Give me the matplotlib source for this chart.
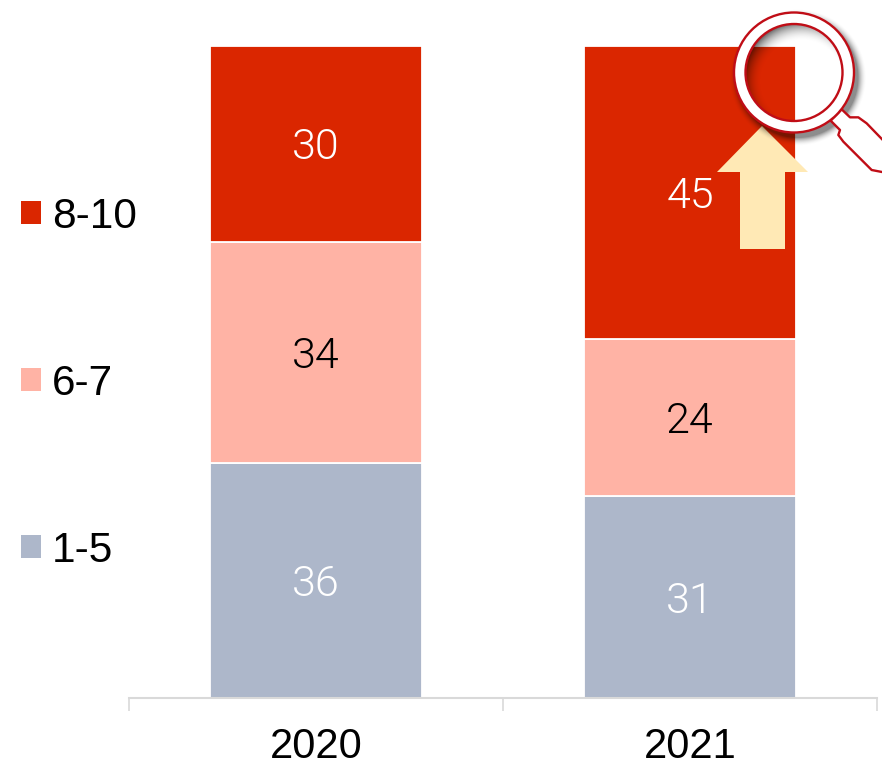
import matplotlib
matplotlib.use("Agg")
import matplotlib.pyplot as plt
import numpy as np
from matplotlib.patches import Circle, Patch, Polygon

YEARS = ["2020", "2021"]
LOW_SCORE = [36, 31]
MID_SCORE = [34, 24]
HIGH_SCORE = [30, 45]
SERIES_LABELS = ["1-5", "6-7", "8-10"]

COLORS = ["#ADB7CA", "#FFB3A5", "#DA2600"]
VALUE_COLORS = ["white", "black", "white"]
AXIS_COLOR = "#D9D9D9"
LENS_RED = "#C00D16"
ARROW_COLOR = "#FFE9B5"

WIDTH, HEIGHT = 882, 766
LENS_CENTER = (794, 72.5)
LENS_RADIUS = 48.5
RIM_RADIUS = 60


def shadow_image(ax, alpha, clip=None):
    rgba = np.zeros((HEIGHT, WIDTH, 4))
    rgba[..., 3] = alpha
    img = ax.imshow(rgba, extent=(0, WIDTH, HEIGHT, 0), zorder=5, interpolation="bilinear")
    if clip is not None:
        img.set_clip_path(clip)


def draw_magnifier(ax):
    cx, cy = LENS_CENTER
    yy, xx = np.mgrid[0:HEIGHT, 0:WIDTH] + 0.5

    # drop shadow falling to the lower right of the rim, kept out of the glass
    dist = np.hypot(xx - cx - 4, yy - cy - 5)
    outer = np.clip((RIM_RADIUS - dist) / 9 + 1, 0, 1) ** 2 * 0.45
    outer[np.hypot(xx - cx, yy - cy) < RIM_RADIUS - 2] = 0
    shadow_image(ax, outer)

    handle = np.array([
        (485, 328), (510, 352), (535, 352), (560, 370), (620, 432), (640, 500),
        (606, 516), (575, 510), (555, 490), (490, 425), (475, 405), (480, 390), (452, 362),
    ]) / 3 + (680, 0)
    ax.add_patch(Polygon(handle, closed=True, fc="white", ec=LENS_RED, lw=1.7, zorder=6, joinstyle="round"))

    ring_width = RIM_RADIUS - LENS_RADIUS
    ax.add_patch(Circle((cx, cy), LENS_RADIUS + ring_width / 2, fc="none", ec="white",
                        lw=ring_width * 72 / 100, zorder=7))
    ax.add_patch(Circle((cx, cy), RIM_RADIUS, fc="none", ec=LENS_RED, lw=1.7, zorder=8))
    ax.add_patch(Circle((cx, cy), LENS_RADIUS, fc="none", ec=LENS_RED, lw=1.7, zorder=8))

    # inner shadow on the glass, heaviest at the upper left
    dist = np.hypot(xx - cx - 8, yy - cy - 9)
    inner = np.clip((dist - 40) / 22, 0, 1) ** 2 * 0.75
    lens = Circle((cx, cy), LENS_RADIUS, transform=ax.transData)
    shadow_image(ax, inner, clip=lens)


fig = plt.figure(figsize=(WIDTH / 100, HEIGHT / 100), dpi=100)
ax = fig.add_axes([129 / WIDTH, (HEIGHT - 698) / HEIGHT, 748 / WIDTH, 652 / HEIGHT])

x = np.arange(len(YEARS))
bottom = np.zeros(len(YEARS))
for values, color, value_color in zip((LOW_SCORE, MID_SCORE, HIGH_SCORE), COLORS, VALUE_COLORS):
    bars = ax.bar(x, values, width=0.568, bottom=bottom, color=color, edgecolor="white", linewidth=1.3, zorder=2)
    labels = ax.bar_label(bars, label_type="center", color=value_color, fontsize=31, family="Roboto", fontweight=300)
    for label in labels:
        label.xyann = (0, -3)
    bottom += values

ax.set_xlim(-0.5, 1.5)
ax.set_ylim(0, 100)
ax.set_yticks([])
ax.set_xticks(x)
ax.set_xticklabels(YEARS, family="Liberation Sans", fontsize=30)
ax.tick_params(axis="x", which="major", length=0, pad=21)
ax.set_xticks([-0.5, 0.5, 1.5], minor=True)
ax.tick_params(axis="x", which="minor", length=9.4, width=1.2, color=AXIS_COLOR)
for side in ("top", "left", "right"):
    ax.spines[side].set_visible(False)
ax.spines["bottom"].set_color(AXIS_COLOR)
ax.spines["bottom"].set_linewidth(1.5)

handles = [Patch(facecolor=c, label=s) for c, s in zip(COLORS[::-1], SERIES_LABELS[::-1])]
fig.legend(
    handles=handles,
    loc="upper left",
    bbox_to_anchor=(8 / WIDTH, (HEIGHT - 184) / HEIGHT),
    frameon=False,
    prop={"family": "Liberation Sans", "size": 30.5},
    handlelength=0.47,
    handleheight=0.47,
    handletextpad=0.26,
    labelspacing=3.0,
    borderpad=0.3,
    borderaxespad=0,
)

# pixel-space layer for the callout arrow and the magnifying glass
overlay = fig.add_axes([0, 0, 1, 1], zorder=5)
overlay.axis("off")
overlay.patch.set_alpha(0)

arrow = [(762, 126), (808, 172), (785, 172), (785, 249), (740, 249), (740, 172), (717, 172)]
overlay.add_patch(Polygon(arrow, closed=True, fc=ARROW_COLOR, ec="none", zorder=3))
draw_magnifier(overlay)
overlay.set_xlim(0, WIDTH)
overlay.set_ylim(HEIGHT, 0)
overlay.set_aspect("auto")

fig.savefig("out.png", dpi=100)
plt.close(fig)
